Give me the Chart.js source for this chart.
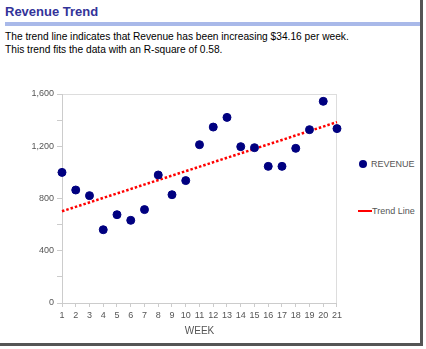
<!DOCTYPE html>
<html>
<head>
<meta charset="utf-8">
<script src="https://cdn.jsdelivr.net/npm/chart.js@4.4.1/dist/chart.umd.min.js"></script>
<style>
	body { margin: 0; background: #fff; }
	#frame {
		position: relative;
		width: 420px;
		height: 343px;
		background: #fff;
		border-right: 3px solid #555;
		border-bottom: 3px solid #555;
		font-family: "Liberation Sans", Arial, sans-serif;
	}
	#title {
		position: absolute; left: 5px; top: 4px;
		font-size: 13px; font-weight: bold; color: #333399;
	}
	#bar {
		position: absolute; left: 5px; top: 22px; width: 415px; height: 4px;
		background: #a9b9e9;
	}
	.msg { position: absolute; left: 5px; font-size: 10.2px; color: #000; }
	#chart-box { position: absolute; left: 0; top: 85px; width: 345px; height: 258px; }
	.leg { position: absolute; font-size: 9px; color: #555; }
	.dot { position: absolute; width: 8px; height: 8px; border-radius: 50%; background: #000080; }
	.ln { position: absolute; width: 14px; height: 2px; background: #ff0000; }
</style>
</head>
<body>
<div id="frame">
	<div id="title">Revenue Trend</div>
	<div id="bar"></div>
	<div class="msg" style="top:31px">The trend line indicates that Revenue has been increasing $34.16 per week.</div>
	<div class="msg" style="top:44px">This trend fits the data with an R-square of 0.58.</div>
	<div id="chart-box"><canvas id="c"></canvas></div>
	<div class="dot" style="left:359px; top:160px"></div>
	<div class="leg" id="leg1" style="left:371px; top:159px"></div>
	<div class="ln" style="left:358px; top:210px"></div>
	<div class="leg" id="leg2" style="left:372px; top:206px"></div>
</div>
<script>
// Données
const semaines = [1, 2, 3, 4, 5, 6, 7, 8, 9, 10, 11, 12, 13, 14, 15, 16, 17, 18, 19, 20, 21];
const revenus = [1000, 865, 822, 561, 676, 633, 715, 980, 829, 937, 1212, 1347, 1421, 1197, 1189, 1046, 1046, 1184, 1327, 1544, 1335];
const tendanceSemaines = [1, 21];
const tendanceValeurs = [702, 1385];
const nomSerie = "REVENUE";
const nomTendance = "Trend Line";

document.getElementById("leg1").textContent = nomSerie;
document.getElementById("leg2").textContent = nomTendance;

const tickFont = { family: "Liberation Sans", size: 9 };

new Chart(document.getElementById("c"), {
	type: "scatter",
	data: {
		datasets: [
			{
				label: nomSerie,
				data: semaines.map((s, i) => ({ x: s, y: revenus[i] })),
				backgroundColor: "#000080",
				borderColor: "#000080",
				pointRadius: 4,
				pointHoverRadius: 4,
				clip: false,
				order: 1,
			},
			{
				label: nomTendance,
				type: "line",
				data: tendanceSemaines.map((s, i) => ({ x: s, y: tendanceValeurs[i] })),
				borderColor: "#ff0000",
				borderWidth: 2.5,
				borderDash: [2.5, 2],
				pointRadius: 0,
				fill: false,
				clip: false,
				order: 2,
			},
		],
	},
	options: {
		responsive: true,
		maintainAspectRatio: false,
		animation: false,
		layout: { padding: { top: 9, right: 8, left: 0, bottom: 0 } },
		plugins: { legend: { display: false }, tooltip: { enabled: false } },
		scales: {
			x: {
				type: "linear",
				min: 1,
				max: 21,
				ticks: { stepSize: 1, color: "#555", font: tickFont, padding: 3, maxRotation: 0, minRotation: 0, autoSkip: false },
				grid: {
					drawOnChartArea: true,
					color: (ctx) => (ctx.tick && ctx.tick.value === 21 ? "#ddd" : "transparent"),
					tickColor: "#ccc",
					tickLength: 4,
				},
				border: { color: "#ccc" },
				title: { display: true, text: "WEEK", color: "#555", font: { family: "Liberation Sans", size: 10 }, padding: { top: 2, bottom: 6 } },
				afterFit: (scale) => { scale.height = 40; },
			},
			y: {
				min: 0,
				max: 1600,
				ticks: {
					stepSize: 200,
					color: "#555",
					font: tickFont,
					padding: 3,
					callback: (v) => (v % 400 === 0 ? v.toLocaleString("en-US") : ""),
				},
				grid: {
					color: (ctx) => (ctx.tick && ctx.tick.value === 1600 ? "#ddd" : "transparent"),
					tickColor: "#ccc",
					tickLength: 5,
				},
				border: { color: "#ccc" },
				afterFit: (scale) => { scale.width = 62; },
			},
		},
	},
});
</script>
</body>
</html>
